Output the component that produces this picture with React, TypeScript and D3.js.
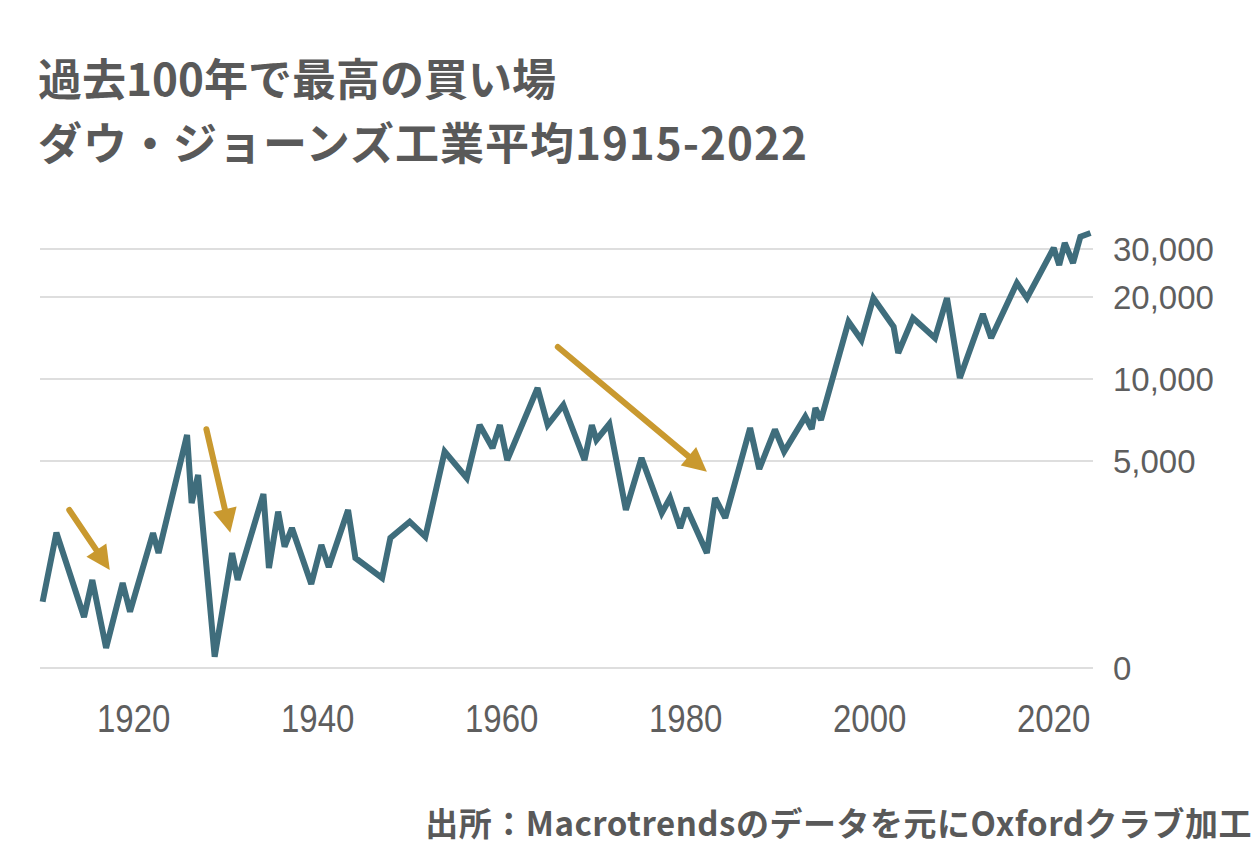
import React from 'react';
import * as d3 from 'd3';

// Dow Jones (stylized, log scale)
const years = [
  1910.1, 1911.6, 1914.6, 1915.5, 1917.0, 1918.8, 1919.6, 1922.1, 1922.7, 1925.8,
  1926.3, 1927.0, 1928.8, 1930.7, 1931.3, 1934.1, 1934.7, 1935.7, 1936.4, 1937.2,
  1939.3, 1940.4, 1941.2, 1943.3, 1944.1, 1947.0, 1947.9, 1950.0, 1951.7, 1953.8,
  1956.2, 1957.6, 1959.0, 1959.8, 1960.6, 1963.9, 1965.0, 1966.7, 1969.0, 1969.8,
  1970.3, 1971.7, 1973.5, 1975.2, 1977.4, 1978.3, 1979.4, 1980.1, 1982.3, 1983.2,
  1984.3, 1987.0, 1988.0, 1989.7, 1990.7, 1993.0, 1993.7, 1994.1, 1994.7, 1997.7,
  1999.1, 2000.4, 2002.6, 2003.1, 2004.7, 2007.1, 2008.4, 2009.8, 2012.3, 2013.2,
  2016.0, 2017.1, 2020.0, 2020.6, 2021.2, 2022.1, 2022.9, 2024.0,
];
const values = [
  1523, 2729, 1339, 1830, 1030, 1784, 1400, 2722, 2299, 6230,
  3508, 4445, 957, 2299, 1830, 3785, 2025, 3260, 2425, 2840,
  1770, 2460, 2043, 3307, 2204, 1861, 2610, 2995, 2639, 5412,
  4334, 6780, 5583, 6780, 5044, 9267, 6780, 8028, 5044, 6780,
  5974, 6838, 3307, 5131, 3224, 3659, 2840, 3363, 2299, 3659,
  3090, 6610, 4675, 6527, 5412, 7272, 6555, 7828, 7074, 16234,
  13903, 19828, 15556, 12458, 16748, 14146, 19828, 10083, 17322, 14146,
  22507, 19828, 30259, 26204, 31564, 26657, 33295, 34348,
];

const yTickValues = [870, 5000, 10000, 20000, 30000];
const yTickLabels = ['0', '5,000', '10,000', '20,000', '30,000'];
const xTickValues = [1920, 1940, 1960, 1980, 2000, 2020];

// annotation arrows (from -> to), in data units
const arrowFromYears = [1913.0, 1927.9, 1966.1];
const arrowFromValues = [3307, 6539, 13111];
const arrowToYears = [1917.4, 1930.5, 1982.3];
const arrowToValues = [1991, 2729, 4570];

const titleLines = ['過去100年で最高の買い場', 'ダウ・ジョーンズ工業平均1915-2022'];
const sourceText = '出所：Macrotrendsのデータを元にOxfordクラブ加工';

const W = 1258;
const H = 848;
const LINE_COLOR = '#3f6d7c';
const ARROW_COLOR = '#c9992f';
const TEXT_COLOR = '#595959';

export default function App() {
  const x = d3.scaleLinear().domain([1920, 2020]).range([133.7, 1053.7]);
  const y = d3.scaleLog().domain([870, 30000]).range([668, 249]);

  const pts: [number, number][] = years.map((yr, i) => [yr, values[i]]);
  const line = d3
    .line<[number, number]>()
    .x((d) => x(d[0]))
    .y((d) => y(d[1]));

  const arrows = arrowFromYears.map((_, i) => {
    const x1 = x(arrowFromYears[i]);
    const y1 = y(arrowFromValues[i]);
    const x2 = x(arrowToYears[i]);
    const y2 = y(arrowToValues[i]);
    const len = Math.hypot(x2 - x1, y2 - y1);
    const ux = (x2 - x1) / len;
    const uy = (y2 - y1) / len;
    const headLen = 24;
    const headHalf = 12;
    const bx = x2 - ux * headLen;
    const by = y2 - uy * headLen;
    const px = -uy;
    const py = ux;
    const head = [
      [x2, y2],
      [bx + px * headHalf, by + py * headHalf],
      [bx - px * headHalf, by - py * headHalf],
    ]
      .map((p) => p.join(','))
      .join(' ');
    return { x1, y1, bx: x2 - ux * (headLen - 4), by: y2 - uy * (headLen - 4), head };
  });

  const numFont = '"Liberation Sans", Arial, Helvetica, sans-serif';
  const cjkFont = '"Noto Sans CJK JP", "Noto Sans", sans-serif';

  return (
    <svg
      width={W}
      height={H}
      viewBox={`0 0 ${W} ${H}`}
      style={{ position: 'absolute', left: 0, top: 0, background: '#fff' }}
    >
      <rect x={0} y={0} width={W} height={H} fill="#fff" />
      {titleLines.map((t, i) => (
        <text
          key={t}
          x={38}
          y={96 + i * 64}
          fontFamily={cjkFont}
          fontWeight={700}
          fontSize={44}
          letterSpacing={i === 0 ? 0 : 1}
          fill={TEXT_COLOR}
        >
          {t}
        </text>
      ))}

      {yTickValues.map((v, i) => (
        <g key={v}>
          <line x1={40} x2={1093} y1={y(v)} y2={y(v)} stroke="#dedede" strokeWidth={2} />
          <text
            x={1113}
            y={y(v)}
            dy="0.36em"
            fontFamily={numFont}
            fontSize={33}
            fill="#5e5e5e"
          >
            {yTickLabels[i]}
          </text>
        </g>
      ))}

      {xTickValues.map((t) => (
        <text
          key={t}
          x={x(t)}
          y={732}
          textAnchor="middle"
          fontFamily={numFont}
          fontSize={33}
          fill="#5e5e5e"
          transform={`translate(${x(t)},732) scale(1,1.15) translate(${-x(t)},-732)`}
        >
          {t}
        </text>
      ))}

      <path
        d={line(pts) || ''}
        fill="none"
        stroke={LINE_COLOR}
        strokeWidth={6}
        strokeLinejoin="miter"
        strokeMiterlimit={2.5}
      />

      {arrows.map((a, i) => (
        <g key={i}>
          <line
            x1={a.x1}
            y1={a.y1}
            x2={a.bx}
            y2={a.by}
            stroke={ARROW_COLOR}
            strokeWidth={6}
            strokeLinecap="round"
          />
          <polygon points={a.head} fill={ARROW_COLOR} />
        </g>
      ))}

      <text
        x={1252}
        y={836}
        textAnchor="end"
        fontFamily={cjkFont}
        fontWeight={700}
        fontSize={33}
        letterSpacing={0.5}
        fill={TEXT_COLOR}
      >
        {sourceText}
      </text>
    </svg>
  );
}
